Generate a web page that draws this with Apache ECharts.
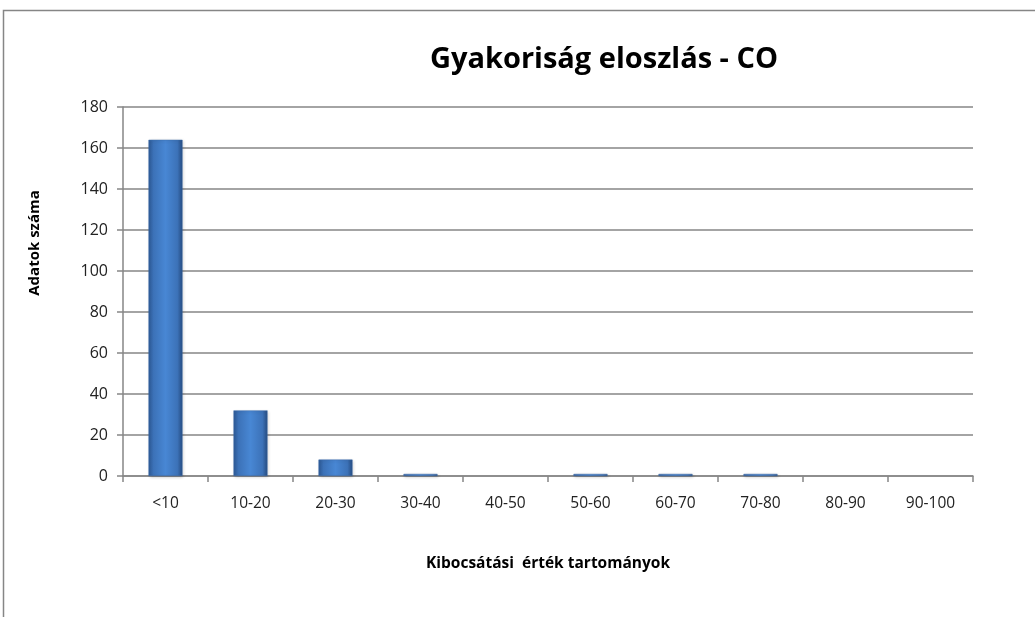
<!DOCTYPE html>
<html><head><meta charset="utf-8">
<script src="https://cdn.jsdelivr.net/npm/echarts@6/dist/echarts.min.js"></script>
<style>html,body{margin:0;padding:0;background:#fff;}#c{width:1035px;height:617px;}</style>
</head><body><div id="c"></div>
<script>
const categories = ['<10','10-20','20-30','30-40','40-50','50-60','60-70','70-80','80-90','90-100'];
const counts = [164, 32, 8, 1, 0, 1, 1, 1, 0, 0];
const yTicks = [0, 20, 40, 60, 80, 100, 120, 140, 160, 180];

const chart = echarts.init(document.getElementById('c'));
const font = '"Open Sans", "Liberation Sans", sans-serif';
const barData = counts.map(v => v === 0 ? {value: 0, itemStyle: {opacity: 0}} : v);
chart.setOption({
  backgroundColor: '#fff',
  animation: false,
  graphic: [{
    type: 'rect', shape: {x: 3.5, y: 10.5, width: 1100, height: 700},
    style: {fill: 'none', stroke: '#868686', lineWidth: 1.5}, silent: true
  }, {
    type: 'text', x: 35, y: 243, rotation: Math.PI / 2,
    style: {text: 'Adatok száma', font: 'bold 15px ' + font, fill: '#000',
      textAlign: 'center', textVerticalAlign: 'middle'}, silent: true
  }],
  title: {
    text: 'Gyakoriság eloszlás - CO', left: 599, top: 40, textAlign: 'center',
    textStyle: {fontFamily: font, fontSize: 29, fontWeight: 'bold', color: '#000'}
  },
  grid: {left: 123, right: 62, top: 107, bottom: 141, containLabel: false},
  xAxis: {
    type: 'category', data: categories,
    axisLine: {lineStyle: {color: '#868686', width: 1.5}},
    axisTick: {show: true, alignWithLabel: false, length: 6, lineStyle: {color: '#868686', width: 1.5}},
    axisLabel: {fontFamily: font, fontSize: 15.5, color: '#222', margin: 20},
    name: 'Kibocsátási  érték tartományok', nameLocation: 'middle', nameGap: 80,
    nameTextStyle: {fontFamily: font, fontSize: 15.5, fontWeight: 'bold', color: '#000'}
  },
  yAxis: {
    type: 'value', min: 0, max: 180, interval: 20,
    axisLine: {show: true, lineStyle: {color: '#868686', width: 1.5}},
    axisTick: {show: true, length: 6, lineStyle: {color: '#868686', width: 1.5}},
    splitLine: {lineStyle: {color: '#868686', width: 1.5}},
    axisLabel: {fontFamily: font, fontSize: 16, color: '#222', margin: 15,
      formatter: v => yTicks.includes(v) ? String(v) : ''}
  },
  series: [{
    type: 'bar', data: barData, barWidth: '40%',
    itemStyle: {
      color: new echarts.graphic.LinearGradient(0, 0, 1, 0, [
        {offset: 0, color: '#2d5a96'},
        {offset: 0.15, color: '#3c72b8'},
        {offset: 0.5, color: '#4887d4'},
        {offset: 0.85, color: '#3c72b8'},
        {offset: 1, color: '#254b80'}
      ]),
      borderColor: '#3a6aa8', borderWidth: 0.5,
      shadowColor: 'rgba(0,0,0,0.22)', shadowBlur: 3, shadowOffsetX: 1, shadowOffsetY: 1
    }
  }]
});
</script></body></html>
